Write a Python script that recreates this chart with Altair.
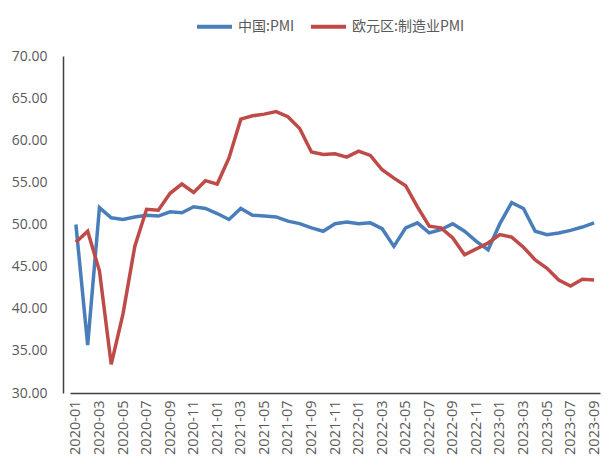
import altair as alt
import pandas as pd

months = [f"{y}-{m:02d}" for y in (2020, 2021, 2022, 2023) for m in range(1, 13)][:45]

china_pmi = [50.0, 35.7, 52.0, 50.8, 50.6, 50.9, 51.1, 51.0, 51.5, 51.4, 52.1, 51.9,
             51.3, 50.6, 51.9, 51.1, 51.0, 50.9, 50.4, 50.1, 49.6, 49.2, 50.1, 50.3,
             50.1, 50.2, 49.5, 47.4, 49.6, 50.2, 49.0, 49.4, 50.1, 49.2, 48.0, 47.0,
             50.1, 52.6, 51.9, 49.2, 48.8, 49.0, 49.3, 49.7, 50.2]

euro_pmi = [47.9, 49.2, 44.5, 33.4, 39.4, 47.4, 51.8, 51.7, 53.7, 54.8, 53.8, 55.2,
            54.8, 57.9, 62.5, 62.9, 63.1, 63.4, 62.8, 61.4, 58.6, 58.3, 58.4, 58.0,
            58.7, 58.2, 56.5, 55.5, 54.6, 52.1, 49.8, 49.6, 48.4, 46.4, 47.1, 47.8,
            48.8, 48.5, 47.3, 45.8, 44.8, 43.4, 42.7, 43.5, 43.4]

series_names = ["中国:PMI", "欧元区:制造业PMI"]
colors = ["#4A7EBB", "#BE4B48"]
y_ticks = [30, 35, 40, 45, 50, 55, 60, 65, 70]
x_label_values = months[::2]

rows = []
for i, m in enumerate(months):
    rows.append({"month": m, "series": series_names[0], "value": china_pmi[i], "order": i})
    rows.append({"month": m, "series": series_names[1], "value": euro_pmi[i], "order": i})
df = pd.DataFrame(rows)

axis_font = "Open Sans"
label_color = "#595959"

chart = alt.Chart(df).mark_line(strokeWidth=3.5).encode(
    x=alt.X("month:O", sort=months, title=None,
            scale=alt.Scale(type="point", range=[7, 537]),
            axis=alt.Axis(values=x_label_values, labelAngle=270, ticks=False,
                          labelFontSize=14.5, labelColor=label_color, labelFont=axis_font,
                          labelPadding=7, domainColor="#404040", domainWidth=1.5,
                          grid=False, labelOverlap=False)),
    y=alt.Y("value:Q", title=None,
            scale=alt.Scale(domain=[30, 70], nice=False, zero=False),
            axis=alt.Axis(values=y_ticks, format=".2f", ticks=False, grid=False,
                          labelFontSize=14, labelColor=label_color, labelFont=axis_font,
                          labelPadding=16, domainColor="#404040", domainWidth=1.5)),
    color=alt.Color("series:N", sort=series_names,
                    scale=alt.Scale(domain=series_names, range=colors),
                    legend=alt.Legend(title=None, orient="none", direction="horizontal",
                                      legendX=132, legendY=-49,
                                      symbolType="stroke", symbolSize=1225,
                                      symbolStrokeWidth=4, labelFontSize=14,
                                      labelColor=label_color,
                                      labelFont="Noto Sans CJK SC",
                                      columnPadding=8, labelOffset=4)),
    detail="series:N",
    order="order:Q",
).properties(
    width=544,
    height=337,
    padding={"left": 55, "top": 48, "right": 0, "bottom": 64},
    autosize=alt.AutoSizeParams(type="none"),
).configure_view(stroke=None)

chart.save("out.html", embed_options={"renderer": "svg", "actions": False})
